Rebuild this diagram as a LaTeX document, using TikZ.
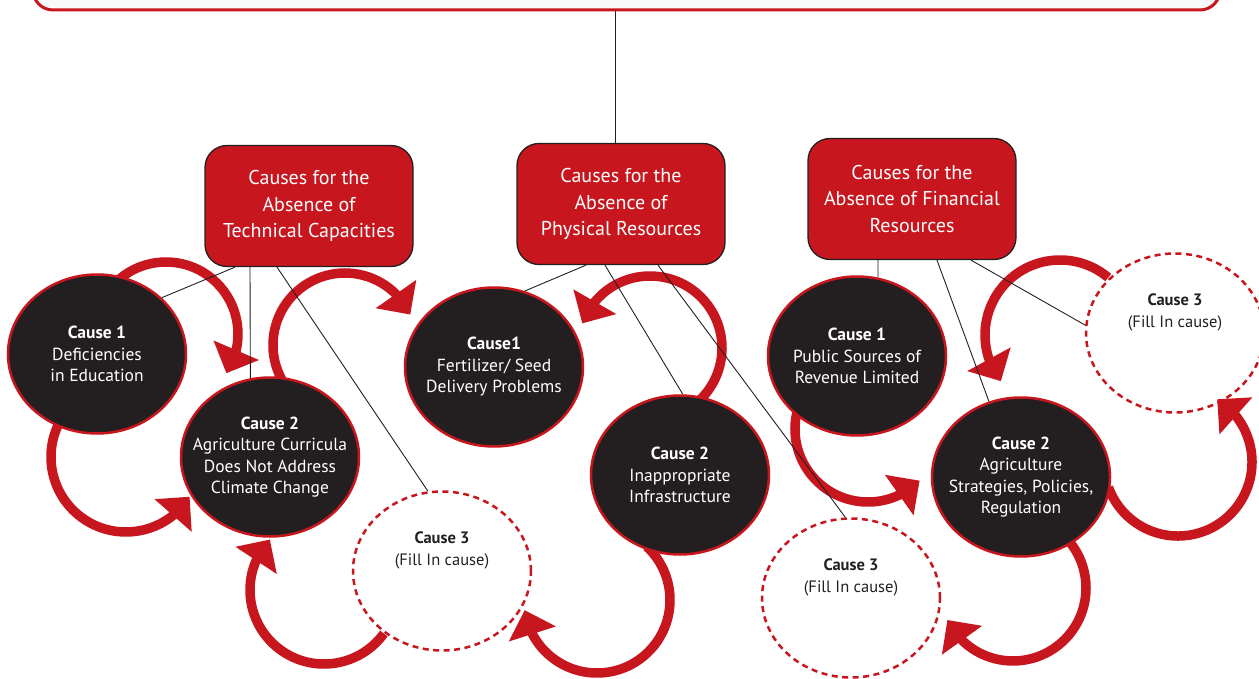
\documentclass[tikz,border=0pt]{standalone}
\usepackage{fontspec}
\setmainfont{PT Sans}
\usetikzlibrary{
        arrows.meta,
        backgrounds,
        bending,
        shapes,
        shapes.geometric
    }
\definecolor{causered}{HTML}{C8161E}
\definecolor{causeblack}{HTML}{231F20}
\definecolor{panelgray}{HTML}{F9F9F9}
\tikzset{
    headbox/.style={rectangle,rounded corners=22pt,fill=causered,draw=causeblack,line width=1.3pt,
        minimum width=208pt,minimum height=121pt,text=white,align=center,
        font=\fontsize{20}{26.5}\selectfont},
    causenode/.style={ellipse,fill=causeblack,draw=causered,line width=2.5pt,
        minimum width=178pt,minimum height=159pt,inner xsep=-20pt,inner ysep=0pt,text=white,align=center,
        font=\fontsize{17.5}{21.5}\selectfont},
    opencause/.style={causenode,fill=none,dash pattern=on 6pt off 4.5pt,text=causeblack,
        font=\fontsize{16.5}{22}\selectfont},
    link/.style={draw=causeblack,line width=0.9pt},
    cyclearrow/.style={draw=causered,line width=9.5pt,-{Triangle[length=25pt,width=48pt]}}
}

\begin{document}
\begin{tikzpicture}[x=1pt,y=-1pt]
    \useasboundingbox (0,0) rectangle (1259,679);
    \node[rectangle,rounded corners=20pt,fill=panelgray,draw=causered,line width=3pt,
        minimum width=1187pt,minimum height=60pt] (goal) at (626.5,-20) {};

    \node[headbox] (bt) at (309,206) {Causes for the\\Absence of\\Technical Capacities};
    \node[headbox] (bp) at (621,204) {Causes for the\\Absence of\\Physical Resources};
    \node[headbox] (bf) at (912,199) {Causes for the\\Absence of Financial\\Resources};

    \node[causenode] (ct1) at (97,354) {\textbf{Cause 1}\\Deficiencies\\in Education};
    \node[causenode] (ct2) at (270,457) {\textbf{Cause 2}\\Agriculture Curricula\\Does Not Address\\Climate Change};
    \node[opencause] (ct3) at (442,571) {\textbf{Cause 3}\\(Fill In cause)\\~\\~};
    \node[causenode] (cp1) at (494,367) {\textbf{Cause1}\\Fertilizer/ Seed\\Delivery Problems};
    \node[causenode] (cp2) at (680,475) {\textbf{Cause 2}\\Inappropriate\\Infrastructure};
    \node[opencause] (cp3) at (851,598) {\textbf{Cause 3}\\(Fill In cause)\\~\\~};
    \node[causenode] (cf1) at (857,356) {\textbf{Cause 1}\\Public Sources of\\Revenue Limited};
    \node[causenode] (cf2) at (1021,477) {\textbf{Cause 2}\\Agriculture\\Strategies, Policies,\\Regulation};
    \node[opencause] (cf3) at (1175,333) {\textbf{Cause 3}\\(Fill In cause)\\~\\~};

    \draw[link] ([xshift=-6pt]bp.north) -- ([xshift=-6pt]bp.north |- goal.south);
    \draw[link] ([xshift=-74pt]bt.south) -- (ct1.41);
    \draw[link] ([xshift=-59pt]bt.south) -- (ct2.104);
    \draw[link] ([xshift=-32pt]bt.south) -- (ct3.100);
    \draw[link] ([xshift=-35pt]bp.south) -- (cp1.68);
    \draw[link] ([xshift=-16pt]bp.south) -- (cp2.88);
    \draw[link] ([xshift=37pt]bp.south) -- (cp3.94);
    \draw[link] ([xshift=-34pt]bf.south) -- (cf1.75);
    \draw[link] ([xshift=25pt]bf.south) -- (cf2.113);
    \draw[link] ([xshift=59pt]bf.south) -- (cf3.175);

    % feedback loops between the causes
    \begin{scope}[on background layer]
        \draw[cyclearrow] (166,334) ++(-135:72) arc[start angle=-135,end angle=33,radius=72];
        \draw[cyclearrow] (126,457) ++(210:75) arc[start angle=210,end angle=32,radius=75];
        \draw[cyclearrow] (345,345) ++(150:72) arc[start angle=150,end angle=335,radius=72];
        \draw[cyclearrow] (324,590) ++(36:74) arc[start angle=36,end angle=223,radius=74];
        \draw[cyclearrow] (650,348) ++(48:72) arc[start angle=48,end angle=-160,radius=72];
        \draw[cyclearrow] (597,600) ++(-47:73) arc[start angle=-47,end angle=172,radius=73];
        \draw[cyclearrow] (868,429) ++(195:73) arc[start angle=195,end angle=45,radius=73];
        \draw[cyclearrow] (1060,335) ++(-50:75) arc[start angle=-50,end angle=-218,radius=75];
        \draw[cyclearrow] (1178,462) ++(160:74) arc[start angle=160,end angle=-58,radius=74];
        \draw[cyclearrow] (1013,588) ++(-42:73) arc[start angle=-42,end angle=154,radius=73];
    \end{scope}
\end{tikzpicture}
\end{document}
